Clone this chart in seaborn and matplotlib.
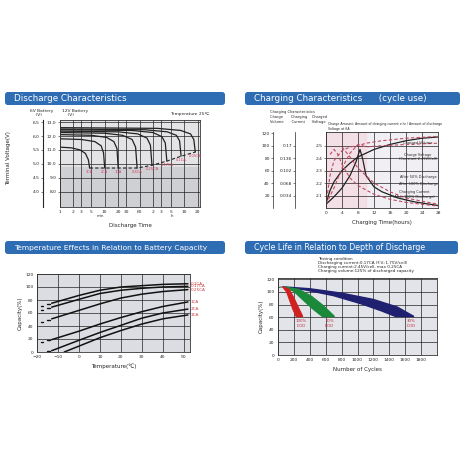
import numpy as np
import pandas as pd
import matplotlib
matplotlib.use("Agg")
import matplotlib.pyplot as plt
import seaborn as sns
from matplotlib.patches import FancyBboxPatch

sns.set_style("white")
plt.rcParams['font.family'] = ['DejaVu Sans']

# ---------------- data ----------------
dis_t = [[1, 1.8, 2.8, 3.7, 4.3, 4.6], [1, 3, 6, 8.3, 9.4, 10], [1, 5, 11, 16, 18.8, 20], [1, 10, 25, 41, 49, 53],
         [1, 20, 55, 88, 105, 114], [1, 40, 120, 190, 226, 245], [1, 80, 250, 400, 472, 510], [1, 150, 500, 830, 980, 1060]]
dis_v = [[11.2, 11.15, 11.0, 10.75, 10.3, 9.7], [11.8, 11.75, 11.6, 11.3, 10.8, 9.7], [12.1, 12.05, 11.9, 11.6, 11.1, 9.7],
         [12.25, 12.2, 12.05, 11.75, 11.2, 9.7], [12.35, 12.3, 12.15, 11.85, 11.35, 9.9], [12.45, 12.4, 12.25, 11.95, 11.5, 10.2],
         [12.5, 12.45, 12.3, 12.05, 11.65, 10.55], [12.6, 12.55, 12.4, 12.15, 11.75, 10.85]]
dis_rates = ["3CA", "2CA", "1CA", "0.6CA", "0.25CA", "0.17CA", "0.1CA", "0.05CA"]
dis_xticks = [1, 2, 3, 5, 10, 20, 30, 60, 120, 180, 300, 600, 1200]
dis_xlabels = ["1", "2", "3", "5", "10", "20", "30", "60", "2", "3", "5", "10", "20"]
dis_yticks = [8, 9, 10, 11, 12, 13]
dis_y6 = ["4.0", "4.5", "5.0", "5.5", "6.0", "6.5"]

chg_vol_t = [0, 1, 2, 4, 6, 8, 12, 16, 20, 24, 28]
chg_vol_v = [0.4, 1.4, 2.1, 3.0, 3.6, 4.1, 4.7, 5.1, 5.4, 5.6, 5.7]
chg_cur_t = [0, 2, 4, 6, 7.5, 8.5, 9.2, 10, 12, 14, 18, 22, 28]
chg_cur_v = [0.3, 0.9, 1.6, 2.6, 3.7, 4.7, 3.9, 2.6, 1.7, 1.3, 0.8, 0.5, 0.2]
chg_d1_t = [0, 1, 2, 4, 6, 8, 10, 14, 20, 28]
chg_d1_v = [0.3, 2.6, 3.8, 4.6, 4.9, 5.0, 5.2, 5.4, 5.6, 5.75]
chg_d2_t = [0, 2, 4, 6, 8, 10, 14, 20, 28]
chg_d2_v = [0.3, 1.6, 3.2, 4.4, 5.1, 4.9, 5.0, 5.1, 5.2]
chg_d3_t = [1, 2, 3, 4, 6, 8, 12, 16, 20, 28]
chg_d3_v = [4.3, 4.7, 4.3, 3.5, 2.4, 1.8, 1.1, 0.7, 0.45, 0.15]
chg_d4_t = [4, 6, 8, 12, 16, 20, 28]
chg_d4_v = [4.9, 4.1, 3.2, 2.0, 1.3, 0.8, 0.3]
chg_pct = ["20", "40", "60", "80", "100", "120"]
chg_ca = ["0.034", "0.068", "0.102", "0.136", "0.17"]
chg_vc = ["2.1", "2.2", "2.3", "2.4", "2.5"]

temp_x = [-13, 0, 10, 20, 30, 40, 52]
temp_curves = {
    "0.1CA": [75, 87, 95, 100, 102, 104, 105],
    "0.17CA": [69, 81, 90, 95, 98, 100, 101],
    "0.25CA": [51, 64, 74, 83, 89, 93, 96],
    "1CA": [19, 32, 43, 53, 62, 70, 77],
    "2CA": [2, 18, 30, 41, 52, 60, 66],
    "3CA": [None, 9, 22, 33, 43, 51, 57],
}
temp_tail = {"0.1CA": 72, "0.17CA": 66, "0.25CA": 47, "1CA": 16, "2CA": 0}

red_up_x = [60, 140, 200, 260, 310]; red_up_y = [108, 104, 90, 74, 61]
red_lo_x = [60, 110, 150, 190, 230]; red_lo_y = [108, 100, 86, 72, 61]
grn_up_x = [60, 260, 420, 570, 710]; grn_up_y = [108, 104, 93, 78, 61]
grn_lo_x = [60, 200, 310, 430, 560]; grn_lo_y = [108, 101, 88, 74, 61]
blu_up_x = [60, 400, 800, 1200, 1500, 1710]; blu_up_y = [108, 105, 98, 88, 76, 61]
blu_lo_x = [60, 350, 700, 1050, 1300, 1480]; blu_lo_y = [108, 103, 94, 81, 70, 61]

# ---------------- figure ----------------
fig = plt.figure(figsize=(4.65, 4.65), dpi=100)
W = H = 465.0

def frac(x0, y0, x1, y1):
    return [x0 / W, 1 - y1 / H, (x1 - x0) / W, (y1 - y0) / H]

def header(x0, y0, x1, y1, text, size):
    l, b, w, h = frac(x0, y0, x1, y1)
    fig.patches.append(FancyBboxPatch((l, b), w, h, boxstyle="round,pad=0,rounding_size=0.006",
                                      transform=fig.transFigure, facecolor="#2e6cb4", edgecolor="none"))
    fig.text(l + 0.02, b + h / 2, text, color="white", fontsize=size, va="center", ha="left")

header(5, 92, 225, 105, "Discharge Characteristics", 6.3)
header(245, 92, 460, 105, "Charging Characteristics      (cycle use)", 6.3)
header(5, 241, 225, 254, "Temperature Effects in Relation to Battery Capacity", 5.4)
header(245, 241, 458, 254, "Cycle Life in Relation to Depth of Discharge", 5.7)

fs = 3.2

def style(ax, face):
    ax.set_facecolor(face)
    for s in ax.spines.values():
        s.set_color("#333333"); s.set_linewidth(0.6)
    ax.tick_params(labelsize=fs, length=1.5, width=0.4, pad=1)
    ax.grid(True, color="#222222", linewidth=0.5)

# ---- Discharge ----
ax = fig.add_axes(frac(60, 120, 200, 207))
style(ax, "#e4e4e6")
ax.set_xscale("log")
for t, v in zip(dis_t, dis_v):
    sns.lineplot(x=t, y=v, ax=ax, color="#222222", linewidth=0.9, estimator=None, sort=False)
ends_t = [t[-1] for t in dis_t]; ends_v = [v[-1] for v in dis_v]
sns.lineplot(x=ends_t, y=ends_v, ax=ax, color="#222222", linewidth=0.8, linestyle=(0, (3, 2)), estimator=None, sort=False)
for t, v, r in zip(ends_t, ends_v, dis_rates):
    ax.text(t, v - 0.12, r, fontsize=2.6, color="#d04060", ha="center", va="top")
ax.set_xlim(1, 1350); ax.set_ylim(6.9, 13.15)
ax.set_xticks(dis_xticks); ax.set_xticklabels(dis_xlabels)
ax.xaxis.set_minor_locator(matplotlib.ticker.NullLocator())
ax.set_yticks(dis_yticks); ax.set_yticklabels([f"{y:.1f}" for y in dis_yticks])
ax.axhspan(6.9, 9.8, color="#cfd0d4", zorder=0)
ax2 = ax.twinx()
ax2.set_ylim(ax.get_ylim()); ax2.yaxis.tick_left()
ax2.spines["left"].set_position(("outward", 12)); ax2.spines["right"].set_visible(False)
ax2.spines["top"].set_visible(False); ax2.spines["bottom"].set_visible(False)
ax2.set_yticks(dis_yticks); ax2.set_yticklabels(dis_y6); ax2.tick_params(labelsize=fs, length=1.5, width=0.4, pad=1)
ax.set_xlabel("Discharge Time", fontsize=4, labelpad=6)
fig.text(0.012, 0.66, "Terminal Voltage(V)", rotation=90, fontsize=4, va="center")
fig.text(30 / W, 1 - 113 / H, "6V Battery\n    (V)", fontsize=3.2, va="center")
fig.text(62 / W, 1 - 113 / H, "12V Battery\n    (V)", fontsize=3.2, va="center")
fig.text(190 / W, 1 - 114 / H, "Temperature 25℃", fontsize=3.2, va="center", ha="center")
fig.text(100 / W, 1 - 217 / H, "min", fontsize=2.8, ha="center")
fig.text(172 / W, 1 - 217 / H, "h", fontsize=2.8, ha="center")

# ---- Charging ----
ax = fig.add_axes(frac(326, 132, 438, 208))
style(ax, "#f1eff3")
ax.axvspan(0, 10, color="#f3d6de", alpha=0.6, zorder=0)
sns.lineplot(x=chg_vol_t, y=chg_vol_v, ax=ax, color="#222222", linewidth=0.9, estimator=None, sort=False)
sns.lineplot(x=chg_cur_t, y=chg_cur_v, ax=ax, color="#222222", linewidth=0.9, estimator=None, sort=False)
for t, v in [(chg_d1_t, chg_d1_v), (chg_d2_t, chg_d2_v), (chg_d3_t, chg_d3_v), (chg_d4_t, chg_d4_v)]:
    sns.lineplot(x=t, y=v, ax=ax, color="#c04a60", linewidth=0.8, linestyle=(0, (3, 2)), estimator=None, sort=False)
ax.set_xlim(0, 28); ax.set_ylim(0, 6.1)
ax.set_xticks(range(0, 29, 4)); ax.set_yticks([1, 2, 3, 4, 5]); ax.set_yticklabels(chg_vc)
ax.set_xlabel("Charging Time(hours)", fontsize=4, labelpad=3)
for txt, x, y in [("Charged Volume", 23, 5.25), ("Charge Voltage\n(Constant 2.45V/Cell)", 23, 4.1),
                  ("After 50% Discharge", 23, 2.5), ("After 100% Discharge", 23, 1.95),
                  ("Charging Current\n(After 100% Discharge)", 22, 1.1)]:
    ax.text(x, y, txt, fontsize=2.5, ha="center", va="center")
ax.text(0.5, 6.2, "Charge Amount: Amount of charging current x hr / Amount of discharge\nVoltage at 6A", fontsize=2.3, va="bottom")
for off, labs, pos in [(22, chg_ca, [1, 2, 3, 4, 5]), (38, chg_pct, [1, 2, 3, 4, 5, 6])]:
    a = ax.twinx(); a.set_ylim(0, 6.1); a.yaxis.tick_left()
    for k in ["right", "top", "bottom"]:
        a.spines[k].set_visible(False)
    a.spines["left"].set_position(("outward", off)); a.spines["left"].set_linewidth(0.5)
    a.set_yticks(pos); a.set_yticklabels(labs); a.tick_params(labelsize=fs, length=1.5, width=0.4, pad=1)
fig.text(270 / W, 1 - 117 / H, "Charging Characteristics\nCharge       Charging    Charged\nVolume       Current      Voltage",
         fontsize=2.6, va="center")

# ---- Temperature ----
ax = fig.add_axes(frac(37, 274, 190, 352))
style(ax, "#dcdde2")
for name, ys in temp_curves.items():
    xs = [x for x, y in zip(temp_x, ys) if y is not None]
    yv = [y for y in ys if y is not None]
    if name == "3CA":
        xs = [-7] + xs; yv = [0] + yv
    sns.lineplot(x=xs, y=yv, ax=ax, color="#111111", linewidth=1.1, estimator=None, sort=False)
    ax.text(53.5, yv[-1], name, fontsize=3, color="#d04040", va="center")
for name, y in temp_tail.items():
    sns.lineplot(x=[-18, -17], y=[y - 1, y - 1], ax=ax, color="#111", linewidth=1, estimator=None)
    sns.lineplot(x=[-15, -14], y=[y + 2, y + 2], ax=ax, color="#111", linewidth=1, estimator=None)
ax.set_xlim(-20, 53); ax.set_ylim(0, 120)
ax.set_xticks(range(-20, 51, 10)); ax.set_yticks(range(0, 121, 20))
ax.set_xlabel("Temperature(℃)", fontsize=4, labelpad=3)
ax.set_ylabel("Capacity(%)", fontsize=4, labelpad=2)

# ---- Cycle life ----
ax = fig.add_axes(frac(278, 278, 437, 355))
style(ax, "#e3e4ea")
for ux, uy, lx, ly, c in [(blu_up_x, blu_up_y, blu_lo_x, blu_lo_y, "#1f2070"),
                          (grn_up_x, grn_up_y, grn_lo_x, grn_lo_y, "#1a8a3a"),
                          (red_up_x, red_up_y, red_lo_x, red_lo_y, "#d02020")]:
    ax.fill(ux + lx[::-1], uy + ly[::-1], color=c, zorder=3)
sns.lineplot(x=[0, 60], y=[107, 108], ax=ax, color="#333", linewidth=0.6, estimator=None)
ax.text(290, 57, "100%\nDOD", fontsize=2.8, color="#c03040", ha="center", va="top")
ax.text(650, 57, "50%\nDOD", fontsize=2.8, color="#c03040", ha="center", va="top")
ax.text(1680, 57, "30%\nDOD", fontsize=2.8, color="#c03040", ha="center", va="top")
ax.set_xlim(0, 2000); ax.set_ylim(0, 122)
ax.set_xticks(range(0, 1801, 200)); ax.set_yticks(range(0, 121, 20))
ax.set_xlabel("Number of Cycles", fontsize=4, labelpad=3)
ax.set_ylabel("Capacity(%)", fontsize=4, labelpad=2)
fig.text(318 / W, 1 - 265 / H, "Testing condition\nDischarging current:0.17CA (F.V.:1.75V/cell)\n"
         "Charging current:2.45V/cell, max 0.25CA\nCharging volume:125% of discharged capacity",
         fontsize=3, va="center", linespacing=1.1)

fig.savefig("out.png", dpi=100, facecolor="white")
